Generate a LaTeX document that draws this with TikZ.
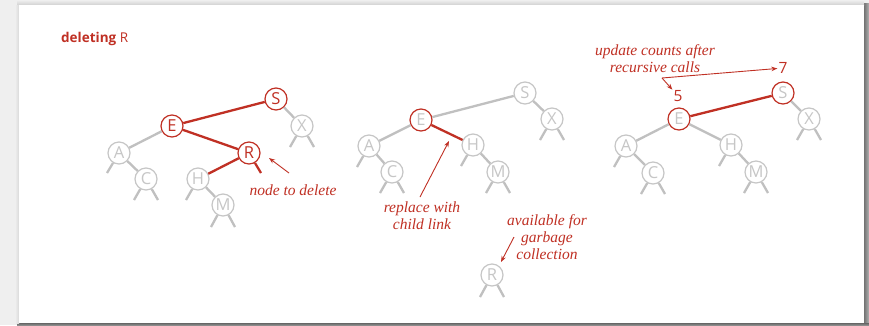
\documentclass[tikz,border=0pt]{standalone}
\usepackage{fontspec}
\newfontfamily\sansf{Open Sans}
\newfontfamily\annof{Liberation Serif}
\usetikzlibrary{arrows.meta}
\definecolor{myred}{RGB}{192,48,36}
\definecolor{lg}{RGB}{192,192,192}
\definecolor{lgt}{RGB}{198,198,198}
\definecolor{bgg}{RGB}{239,239,239}
\tikzset{
  nd/.style={circle, draw=lgt, text=lgt, line width=1.2pt, minimum size=22pt, inner sep=0pt, font=\sansf\fontsize{16.5}{16.5}\selectfont},
  rednd/.style={nd, draw=myred, text=myred},
  redring/.style={nd, draw=myred},
  ge/.style={draw=lg, line width=2.3pt},
  re/.style={draw=myred, line width=2.3pt},
  anno/.style={text=myred, font=\annof\itshape\fontsize{15.5}{17}\selectfont, align=center, inner sep=0pt},
  arr/.style={draw=myred, line width=0.9pt, -{Stealth[length=6pt,width=4.5pt]}},
  num/.style={text=myred, font=\sansf\fontsize{15.5}{15.5}\selectfont, inner sep=1pt}
}
\begin{document}
\begin{tikzpicture}[x=1pt,y=-1pt]
\useasboundingbox (0,0) rectangle (869,325);
% background and panel
\fill[bgg] (0,0) rectangle (869,325);
\shade[left color=black!55, right color=black!30] (864,3) rectangle (869,325);
\shade[top color=black!60, bottom color=black!45] (17,323) rectangle (869,325);
\shade[top color=bgg, bottom color=black!18] (17,0) rectangle (864,5);
\shade[left color=bgg, right color=black!15] (15,5) rectangle (19,323);
\fill[white] (19,5) rectangle (864,323);

% title
\node[anchor=base west, text=myred, inner sep=0pt, font=\sansf\fontsize{13.5}{15}\selectfont] (title) at (61,42) {\textbf{deleting} R};

% ---------- tree 1 ----------
\node[rednd] (S1) at (276,99) {S};
\node[rednd] (E1) at (172,126) {E};
\node[nd] (X1) at (302,126) {X};
\node[nd] (A1) at (119,153) {A};
\node[rednd] (R1) at (249,153) {R};
\node[nd] (C1) at (146,179) {C};
\node[nd] (H1) at (198,179) {H};
\node[nd] (M1) at (223,205) {M};
\draw[re] (E1) -- (S1);
\draw[re] (E1) -- (R1);
\draw[re] (R1) -- (H1);
\draw[re] (R1) -- ++(12,20);
\draw[ge] (E1) -- (A1);
\draw[ge] (A1) -- (C1);
\draw[ge] (S1) -- (X1);
\draw[ge] (H1) -- (M1);
\draw[ge] (A1) -- ++(-12,20);
\draw[ge] (C1) -- ++(-12,21);
\draw[ge] (C1) -- ++(12,21);
\draw[ge] (H1) -- ++(-12,21);
\draw[ge] (M1) -- ++(-12,22);
\draw[ge] (M1) -- ++(12,22);
\draw[ge] (X1) -- ++(-12,21);
\draw[ge] (X1) -- ++(12,21);

\node[anno] (t1) at (293,190) {node to delete};
\coordinate (a1s) at (289,173);
\coordinate (a1e) at (269,158);
\draw[arr] (a1s) -- (a1e);

% ---------- tree 2 ----------
\node[nd] (S2) at (525,93) {S};
\node[nd] (X2) at (552,119) {X};
\node[redring] (E2) at (421,120) {E};
\node[nd] (A2) at (369,146) {A};
\node[nd] (C2) at (392,172) {C};
\node[nd] (H2) at (473,145) {H};
\node[nd] (M2) at (498,172) {M};
\node[nd] (R2) at (492,275) {R};
\draw[ge] (E2) -- (S2);
\draw[ge] (E2) -- (A2);
\draw[ge] (A2) -- (C2);
\draw[ge] (S2) -- (X2);
\draw[ge] (H2) -- (M2);
\draw[re] (E2) -- (H2);
\draw[ge] (A2) -- ++(-12,21);
\draw[ge] (C2) -- ++(-12,21);
\draw[ge] (C2) -- ++(12,21);
\draw[ge] (H2) -- ++(-12,21);
\draw[ge] (M2) -- ++(-12,21);
\draw[ge] (M2) -- ++(12,21);
\draw[ge] (X2) -- ++(-12,21);
\draw[ge] (X2) -- ++(12,21);
\draw[ge] (R2) -- ++(-12,22);
\draw[ge] (R2) -- ++(12,22);

\node[anno] (t2) at (422,216) {replace with\\child link};
\coordinate (a2s) at (420,197);
\coordinate (a2e) at (449,141);
\draw[arr] (a2s) -- (a2e);

\node[anno] (t3) at (547,237) {available for\\garbage\\collection};
\coordinate (a3s) at (514,237);
\coordinate (a3e) at (501,262);
\draw[arr] (a3s) -- (a3e);

% ---------- tree 3 ----------
\node[redring] (S3) at (783,93) {S};
\node[nd] (X3) at (809,119) {X};
\node[redring] (E3) at (679,119) {E};
\node[nd] (A3) at (626,146) {A};
\node[nd] (C3) at (653,173) {C};
\node[nd] (H3) at (731,145) {H};
\node[nd] (M3) at (756,172) {M};
\draw[re] (E3) -- (S3);
\draw[ge] (E3) -- (A3);
\draw[ge] (E3) -- (H3);
\draw[ge] (A3) -- (C3);
\draw[ge] (H3) -- (M3);
\draw[ge] (S3) -- (X3);
\draw[ge] (A3) -- ++(-12,21);
\draw[ge] (C3) -- ++(-12,21);
\draw[ge] (C3) -- ++(12,21);
\draw[ge] (H3) -- ++(-12,21);
\draw[ge] (M3) -- ++(-12,21);
\draw[ge] (M3) -- ++(12,21);
\draw[ge] (X3) -- ++(-12,21);
\draw[ge] (X3) -- ++(12,21);

\node[anno] (t4) at (655,59) {update counts after\\recursive calls};
\node[num] (five) at (678,96) {5};
\node[num] (seven) at (783,68) {7};
\coordinate (cr) at (662,78);
\draw[arr] (cr) -- (seven);
\draw[arr] (cr) -- (five);
\end{tikzpicture}
\end{document}
